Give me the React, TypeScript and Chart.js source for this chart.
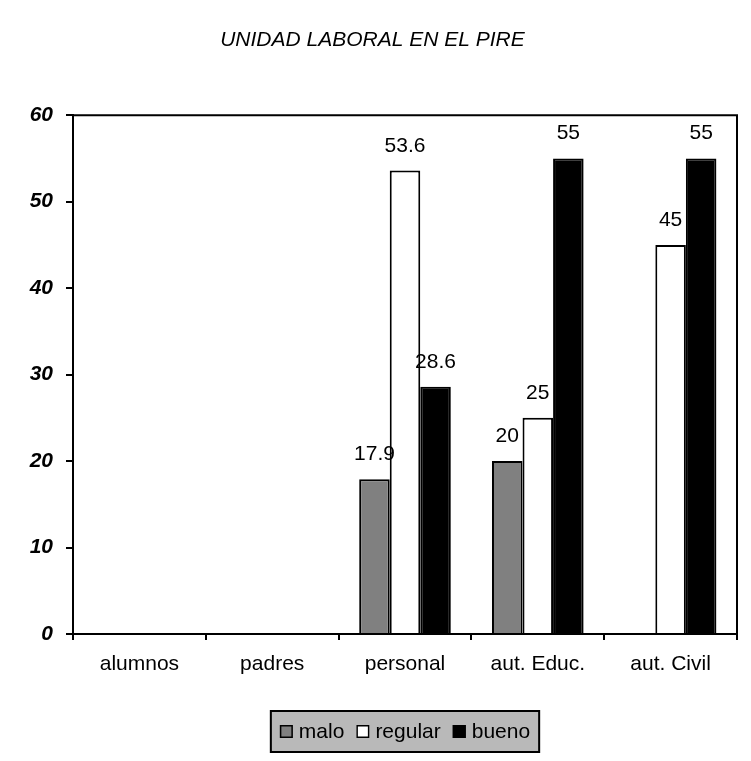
import React, { useEffect, useRef } from "react";
import { Chart, registerables } from "chart.js";

Chart.register(...registerables);

const FONT = "'Liberation Sans', Arial, Helvetica, sans-serif";

const TITLE = "UNIDAD LABORAL EN EL PIRE";
const categories = ["alumnos", "padres", "personal", "aut. Educ.", "aut. Civil"];
const seriesNames = ["malo", "regular", "bueno"];
const malo: (number | null)[] = [null, null, 17.9, 20, null];
const regular: (number | null)[] = [null, null, 53.6, 25, 45];
const bueno: (number | null)[] = [null, null, 28.6, 55, 55];
const yTicks = [0, 10, 20, 30, 40, 50, 60];
const seriesColors = ["#808080", "#ffffff", "#000000"];

const framePlugin = {
  id: "frameLines",
  beforeDatasetsDraw(chart: any) {
    const { ctx, chartArea: a } = chart;
    ctx.save();
    ctx.strokeStyle = "#000";
    ctx.lineWidth = 2;
    ctx.beginPath();
    ctx.moveTo(a.left, a.top);
    ctx.lineTo(a.right, a.top);
    ctx.lineTo(a.right, a.bottom);
    ctx.stroke();
    ctx.restore();
  },
};

const valueLabelPlugin = {
  id: "valueLabels",
  afterDatasetsDraw(chart: any) {
    const { ctx } = chart;
    ctx.save();
    ctx.font = `21px ${FONT}`;
    ctx.fillStyle = "#000";
    ctx.textAlign = "center";
    ctx.textBaseline = "alphabetic";
    chart.data.datasets.forEach((ds: any, i: number) => {
      const meta = chart.getDatasetMeta(i);
      meta.data.forEach((el: any, j: number) => {
        const v = ds.data[j];
        if (v === null || v === undefined) return;
        ctx.fillText(String(v), el.x, el.y - 19);
      });
    });
    ctx.restore();
  },
};

const legendPlugin = {
  id: "boxedLegend",
  afterDraw(chart: any) {
    const { ctx, chartArea: a } = chart;
    const dss = chart.data.datasets;
    ctx.save();
    ctx.font = `21px ${FONT}`;
    const box = 13;
    const gapText = 6;
    const gapItem = 12;
    const padX = 10;
    const widths = dss.map((d: any) => ctx.measureText(d.label).width);
    const content =
      widths.reduce((s: number, w: number) => s + box + gapText + w, 0) +
      gapItem * (dss.length - 1);
    const w = content + padX * 2;
    const h = 43;
    const x0 = (a.left + a.right) / 2 - w / 2;
    const top = chart.height - 48;
    ctx.fillStyle = "#b9b9b9";
    ctx.fillRect(x0, top, w, h);
    ctx.strokeStyle = "#000";
    ctx.lineWidth = 2;
    ctx.strokeRect(x0 + 1, top + 1, w - 2, h - 2);
    const baseline = top + 28;
    let x = x0 + padX;
    dss.forEach((d: any, i: number) => {
      ctx.fillStyle = d.backgroundColor;
      ctx.fillRect(x, baseline - box, box, box);
      ctx.strokeStyle = "#000";
      ctx.lineWidth = 1.5;
      ctx.strokeRect(x + 0.75, baseline - box + 0.75, box - 1.5, box - 1.5);
      ctx.fillStyle = "#000";
      ctx.textAlign = "left";
      ctx.textBaseline = "alphabetic";
      ctx.fillText(d.label, x + box + gapText, baseline);
      x += box + gapText + widths[i] + gapItem;
    });
    ctx.restore();
  },
};

export default function App() {
  const ref = useRef<HTMLCanvasElement | null>(null);

  useEffect(() => {
    if (!ref.current) return;
    const seriesData = [malo, regular, bueno];
    const chart = new Chart(ref.current, {
      type: "bar",
      data: {
        labels: categories,
        datasets: seriesNames.map((name, i) => ({
          label: name,
          data: seriesData[i],
          backgroundColor: seriesColors[i],
          borderColor: "#000",
          borderWidth: 2,
          barPercentage: 1,
          categoryPercentage: 0.69,
        })),
      },
      options: {
        responsive: false,
        animation: false,
        layout: { padding: { left: 0, right: 6, top: 0, bottom: 0 } },
        plugins: {
          legend: { display: false },
          tooltip: { enabled: false },
          title: {
            display: true,
            text: TITLE,
            color: "#000",
            font: { family: FONT, size: 21, style: "italic", weight: "normal" },
            padding: { top: 20, bottom: 62 },
          },
        },
        scales: {
          x: {
            grid: {
              display: true,
              drawOnChartArea: false,
              drawTicks: true,
              tickLength: 6,
              color: "#000",
              lineWidth: 2,
            },
            border: { display: true, color: "#000", width: 2 },
            ticks: {
              color: "#000",
              font: { family: FONT, size: 21 },
              padding: 12,
              maxRotation: 0,
              autoSkip: false,
            },
            afterFit: (s: any) => {
              s.height = 124;
            },
          },
          y: {
            min: 0,
            max: 60,
            grid: {
              display: true,
              drawOnChartArea: false,
              drawTicks: true,
              tickLength: 7,
              color: "#000",
              lineWidth: 2,
            },
            border: { display: true, color: "#000", width: 2 },
            ticks: {
              color: "#000",
              font: { family: FONT, size: 21, style: "italic", weight: "bold" },
              padding: 13,
            },
            afterBuildTicks: (s: any) => {
              s.ticks = yTicks.map((v) => ({ value: v }));
            },
            afterFit: (s: any) => {
              s.width = 65;
            },
          },
        },
      },
      plugins: [framePlugin, valueLabelPlugin, legendPlugin],
    });
    return () => chart.destroy();
  }, []);

  return (
    <canvas ref={ref} width={735} height={750} style={{ display: "block" }} />
  );
}
